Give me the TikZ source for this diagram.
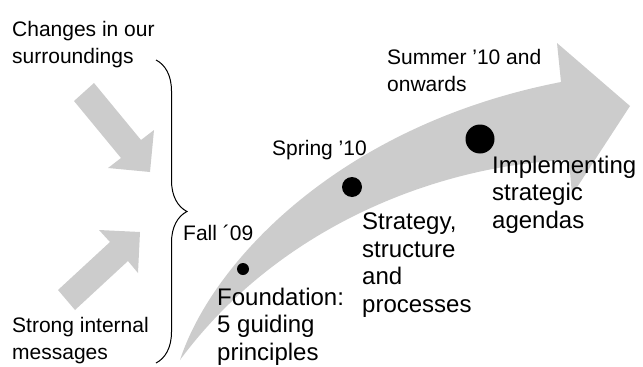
\documentclass[tikz,border=0pt]{standalone}
\usepackage{fontspec}
\setmainfont{Liberation Sans}
\usepackage{tikz}
\usetikzlibrary{decorations.pathreplacing, positioning}
\tikzset{
  smalltext/.style={font=\fontsize{21}{27}\selectfont, align=left, inner sep=0pt, anchor=base west},
  bigtext/.style={font=\fontsize{24}{27.5}\selectfont, align=left, inner sep=0pt, anchor=base west},
  milestone/.style={circle, fill=black, inner sep=0pt},
  flowfill/.style={fill=gray!40},
}

\begin{document}
\begin{tikzpicture}[x=1pt, y=-1pt]
  \useasboundingbox (0,0) rectangle (643,367);
  % big curved arrow
  \fill[flowfill] (180,360) .. controls (212,262) and (340,125) .. (561,82) -- (557,43) -- (630,106) -- (572,195) -- (569,160) .. controls (440,165) and (280,225) .. (180,360) -- cycle;
  % the two arrows coming in
  \fill[flowfill] (74,101) -- (94,83) -- (141,140) -- (154,130) -- (150,172) -- (108,168) -- (121,158) -- cycle;
  \fill[flowfill] (58,290) -- (75,310) -- (128,261) -- (138,273) -- (140,232) -- (99,230) -- (110,242) -- cycle;
  % brace
  \coordinate (bracetop) at (156,60);
  \coordinate (bracebot) at (156,363);
  \draw[line width=1pt, decorate, decoration={brace, amplitude=31pt}] (bracetop) -- (bracebot);
  % left texts (placed at the baseline of their last line)
  \node[smalltext] (changes) at (12,63) {Changes in our\\surroundings};
  \node[smalltext] (internal) at (12,359) {Strong internal\\messages};
  % milestones
  \node[milestone, minimum size=12pt] (fallpt) at (243,269) {};
  \node[milestone, minimum size=20pt] (springpt) at (352,187) {};
  \node[milestone, minimum size=29pt] (summerpt) at (480,139) {};
  \node[smalltext] (fall) at (183,240) {Fall ´09};
  \node[smalltext] (spring) at (272,155) {Spring '10};
  \node[smalltext] (summer) at (387,91) {Summer '10 and\\onwards};
  \node[bigtext] (foundation) at (217,360) {Foundation:\\5 guiding\\principles};
  \node[bigtext] (strategy) at (362,312) {Strategy,\\structure\\and\\processes};
  \node[bigtext] (implementing) at (492,228) {Implementing\\strategic\\agendas};
\end{tikzpicture}
\end{document}
